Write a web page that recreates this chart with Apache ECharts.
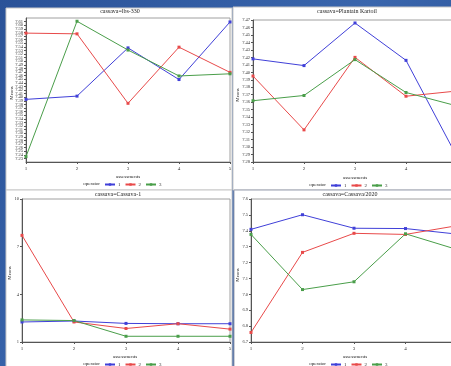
<!DOCTYPE html>
<html>
<head>
<meta charset="utf-8">
<script src="https://cdn.jsdelivr.net/npm/echarts@6/dist/echarts.min.js"></script>
<style>
  html, body { margin: 0; padding: 0; }
  #chart { width: 451px; height: 366px; }
</style>
</head>
<body>
<div id="chart"></div>
<script>
// x categories (assessment number)
const steps = ['1', '2', '3', '4', '5'];
const operators = ['1', '2', '3'];

// cassava = lbs-330
const lbsOp1 = [7.394, 7.403, 7.537, 7.449, 7.609];
const lbsOp2 = [7.578, 7.576, 7.383, 7.539, 7.469];
const lbsOp3 = [7.235, 7.611, 7.531, 7.459, 7.465];
// cassava = Plantain Kartoil
const plantOp1 = [7.418, 7.409, 7.466, 7.416, 7.287];
const plantOp2 = [7.395, 7.323, 7.420, 7.368, 7.375];
const plantOp3 = [7.362, 7.369, 7.417, 7.373, 7.355];
// cassava = Cassava-1
const cassOp1 = [2.26, 2.32, 2.17, 2.15, 2.15];
const cassOp2 = [7.71, 2.26, 1.85, 2.15, 1.81];
const cassOp3 = [2.39, 2.35, 1.36, 1.36, 1.36];
// cassava = Cassava/2020
const caroOp1 = [7.409, 7.501, 7.416, 7.414, 7.379];
const caroOp2 = [6.76, 7.264, 7.384, 7.377, 7.432];
const caroOp3 = [7.377, 7.030, 7.079, 7.381, 7.282];

const panelTitles = ['cassava=lbs-330', 'cassava=Plantain Kartoil', 'cassava=Cassava-1', 'cassava=Cassava/2020'];
const yMins = [7.22, 7.28, 1, 6.7];
const yMaxs = [7.62, 7.47, 10, 7.6];
const ySteps = [0.01, 0.01, 3, 0.1];
const yDecimals = [2, 2, 0, 1];

const panelData = [
    [lbsOp1, lbsOp2, lbsOp3],
    [plantOp1, plantOp2, plantOp3],
    [cassOp1, cassOp2, cassOp3],
    [caroOp1, caroOp2, caroOp3]
];

const lineColors = ['#4040d8', '#e84a4a', '#4a9e4a'];
const font = 'Liberation Serif';

// plot areas (panels 2 and 4 run past the right edge, as in the cropped picture)
const grids = [
    { left: 26, top: 18, width: 204, height: 144 },
    { left: 253, top: 20, width: 204, height: 142 },
    { left: 22, top: 199, width: 208, height: 143 },
    { left: 251, top: 199, width: 206, height: 143 }
];
// where the texts of each panel go
const titlePos = [[120, 8], [347, 8], [118, 191], [350, 191]];
const xNamePos = [[128, 174], [355, 175], [125, 354], [355, 354]];
const yNamePos = [[12, 93], [238, 95], [10, 273], [238, 275]];
const legendPos = [[104, 182], [330, 183], [104, 362], [330, 362]];

const chart = echarts.init(document.getElementById('chart'));

const graphics = [
    // white slide panels
    { type: 'rect', shape: { x: 6, y: 8, width: 226, height: 182 }, style: { fill: '#fff', stroke: '#c8c8c8', lineWidth: 1 }, z: -10 },
    { type: 'rect', shape: { x: 233, y: 7, width: 222, height: 183 }, style: { fill: '#fff', stroke: '#c8c8c8', lineWidth: 1 }, z: -10 },
    { type: 'rect', shape: { x: 6, y: 190, width: 226, height: 180 }, style: { fill: '#fff', stroke: '#c8c8c8', lineWidth: 1 }, z: -10 },
    { type: 'rect', shape: { x: 234, y: 190, width: 221, height: 180 }, style: { fill: '#fff', stroke: '#9aa0b0', lineWidth: 1 }, z: -10 }
];

const series = [];
const xAxes = [];
const yAxes = [];
const legends = [];

for (let i = 0; i < 4; i++) {
    xAxes.push({
        gridIndex: i,
        type: 'category',
        data: steps,
        boundaryGap: false,
        axisLine: { lineStyle: { color: '#555', width: 1 } },
        axisTick: { alignWithLabel: true, length: 2, lineStyle: { color: '#555' } },
        axisLabel: { fontSize: 5, fontFamily: font, color: '#333', margin: 4 },
        splitLine: { show: false }
    });
    yAxes.push({
        gridIndex: i,
        type: 'value',
        min: yMins[i],
        max: yMaxs[i],
        interval: ySteps[i],
        axisLine: { show: true, lineStyle: { color: '#555', width: 1 } },
        axisTick: { show: true, length: 2, lineStyle: { color: '#555' } },
        axisLabel: {
            fontSize: 4.5, fontFamily: font, color: '#333', margin: 3,
            formatter: (v) => v.toFixed(yDecimals[i])
        },
        splitLine: { show: false }
    });
    panelData[i].forEach((vals, k) => {
        series.push({
            name: operators[k],
            type: 'line',
            xAxisIndex: i,
            yAxisIndex: i,
            data: vals,
            symbol: 'rect',
            symbolSize: 3,
            showSymbol: true,
            lineStyle: { width: 1, color: lineColors[k] },
            itemStyle: { color: lineColors[k] },
            emphasis: { disabled: true },
            animation: false
        });
    });
    legends.push({
        data: operators,
        left: legendPos[i][0],
        top: legendPos[i][1],
        itemWidth: 10,
        itemHeight: 3,
        itemGap: 4,
        padding: 0,
        textStyle: { fontSize: 5, fontFamily: font, color: '#333', padding: [0, 0, 0, -2] }
    });
    graphics.push(
        { type: 'text', x: titlePos[i][0], y: titlePos[i][1], style: { text: panelTitles[i], fontSize: 6, fontFamily: font, fill: '#222', align: 'center' } },
        { type: 'text', x: xNamePos[i][0], y: xNamePos[i][1], style: { text: 'assessments', fontSize: 5, fontFamily: font, fill: '#222', align: 'center' } },
        { type: 'text', x: yNamePos[i][0], y: yNamePos[i][1], rotation: Math.PI / 2, style: { text: 'Means', fontSize: 5, fontFamily: font, fill: '#222', align: 'center', verticalAlign: 'middle' } },
        { type: 'text', x: legendPos[i][0] - 4, y: legendPos[i][1] - 1, style: { text: 'operator', fontSize: 5, fontFamily: font, fill: '#222', align: 'right' } }
    );
}

const option = {
    backgroundColor: {
        type: 'linear', x: 0, y: 0, x2: 1, y2: 1,
        colorStops: [
            { offset: 0, color: '#2a5298' },
            { offset: 0.5, color: '#3a66ad' },
            { offset: 1, color: '#244a8e' }
        ]
    },
    animation: false,
    grid: grids.map((g) => Object.assign({
        show: true, borderColor: '#a0a0a0', borderWidth: 1, backgroundColor: 'transparent',
        containLabel: false, outerBoundsMode: 'none'
    }, g)),
    xAxis: xAxes,
    yAxis: yAxes,
    legend: legends,
    series: series,
    graphic: graphics
};

chart.setOption(option);
</script>
</body>
</html>
